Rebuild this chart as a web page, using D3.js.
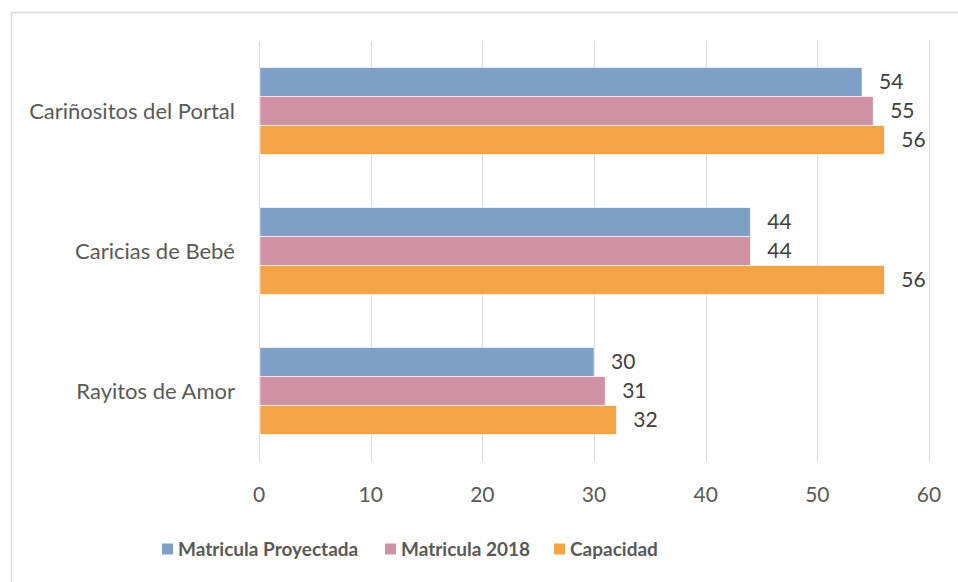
<!DOCTYPE html>
<meta charset="utf-8">
<style>
body { margin: 0; background: #fff; font-family: Lato, "Open Sans", sans-serif; }
.grid line { stroke: #d9d9d9; stroke-width: 1; }
.cat { fill: #595959; font-size: 22px; }
.tick-label { fill: #595959; font-size: 21px; }
.val { fill: #404040; font-size: 21px; }
.legend text { fill: #595959; font-size: 19px; font-weight: bold; }
</style>
<body>
<script src="https://cdn.jsdelivr.net/npm/d3@7"></script>
<script>

var categories = ["Cariñositos del Portal", "Caricias de Bebé", "Rayitos de Amor"];
var seriesNames = ["Matricula Proyectada", "Matricula 2018", "Capacidad"];
var proyectada = [54, 44, 30];
var matricula2018 = [55, 44, 31];
var capacidad = [56, 56, 32];
var ticks = [0, 10, 20, 30, 40, 50, 60];
var colors = ["#7f9fc4", "#d191a5", "#f3a447"];

var width = 958, height = 582;
var margin = {top: 41, right: 29, bottom: 121, left: 259};

var svg = d3.select("body").append("svg")
    .attr("width", width)
    .attr("height", height);

// chart border
svg.append("rect")
    .attr("x", 11.5).attr("y", 12.5)
    .attr("width", 960).attr("height", 600)
    .style("fill", "none")
    .style("stroke", "#d9d9d9")
    .style("stroke-width", 1.5);

var x = d3.scaleLinear().domain([0, 60]).range([margin.left, width - margin.right]);
var y = d3.scaleBand().domain(categories).range([margin.top, height - margin.bottom]).paddingInner(0.38).paddingOuter(0.19);
var ySub = d3.scaleBand().domain(d3.range(3)).range([0, y.bandwidth()]);

svg.append("g").attr("class", "grid")
  .selectAll("line")
  .data(ticks)
  .enter().append("line")
    .attr("x1", function(d) { return Math.round(x(d)) + 0.5; })
    .attr("x2", function(d) { return Math.round(x(d)) + 0.5; })
    .attr("y1", margin.top)
    .attr("y2", height - margin.bottom);

svg.selectAll(".tick-label")
  .data(ticks)
  .enter().append("text")
    .attr("class", "tick-label")
    .attr("x", function(d) { return x(d); })
    .attr("y", 502)
    .attr("text-anchor", "middle")
    .text(function(d) { return d; });

svg.selectAll(".cat")
  .data(categories)
  .enter().append("text")
    .attr("class", "cat")
    .attr("x", 235)
    .attr("y", function(d) { return y(d) + y.bandwidth() / 2; })
    .attr("dy", "0.35em")
    .attr("text-anchor", "end")
    .text(function(d) { return d; });

var series = [proyectada, matricula2018, capacidad];
var rows = [];
series.forEach(function(vals, s) {
  vals.forEach(function(v, i) {
    rows.push({cat: categories[i], s: s, v: v});
  });
});

svg.selectAll(".bar")
  .data(rows)
  .enter().append("rect")
    .attr("class", "bar")
    .attr("x", x(0) + 1)
    .attr("y", function(d) { return y(d.cat) + ySub(d.s); })
    .attr("width", function(d) { return x(d.v) - x(0) - 1; })
    .attr("height", ySub.bandwidth())
    .style("fill", function(d) { return colors[d.s]; })
    .style("stroke", "#fff")
    .style("stroke-width", 0.6);

svg.selectAll(".val")
  .data(rows)
  .enter().append("text")
    .attr("class", "val")
    .attr("x", function(d) { return x(d.v) + 17; })
    .attr("y", function(d) { return y(d.cat) + ySub(d.s) + ySub.bandwidth() / 2; })
    .attr("dy", "0.35em")
    .text(function(d) { return d.v; });

// legend
var legendX = [162, 385, 554];
var legend = svg.append("g").attr("class", "legend")
  .selectAll("g")
  .data(seriesNames)
  .enter().append("g")
    .attr("transform", function(d, i) { return "translate(" + legendX[i] + ",549)"; });

legend.append("rect")
    .attr("x", 0).attr("y", -5.5)
    .attr("width", 11).attr("height", 11)
    .style("fill", function(d, i) { return colors[i]; });

legend.append("text")
    .attr("x", 16)
    .attr("dy", "0.35em")
    .text(function(d) { return d; });

</script>
